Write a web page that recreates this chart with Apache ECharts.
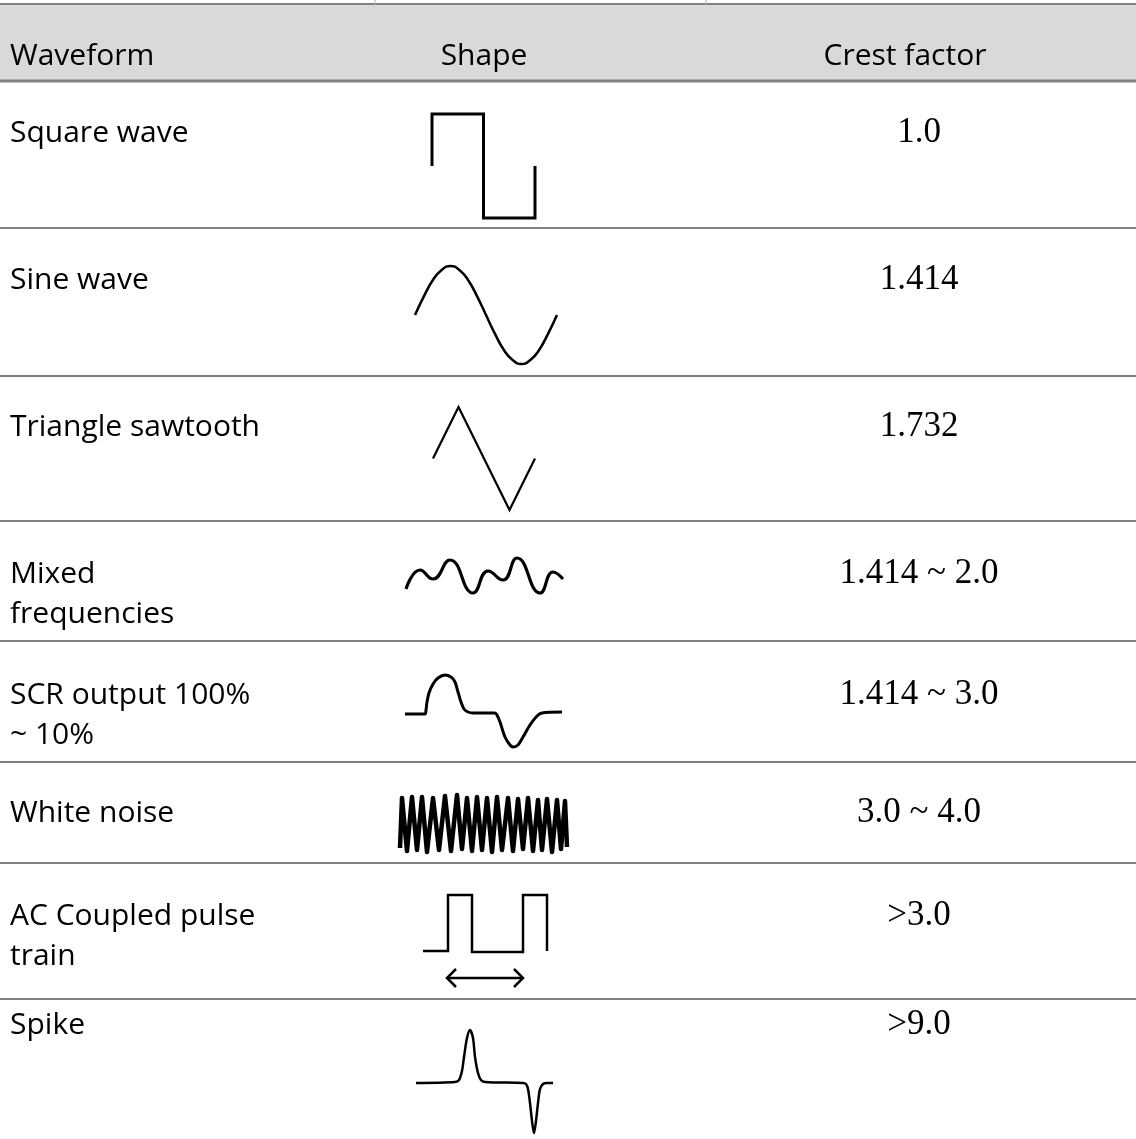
<!DOCTYPE html>
<html>
<head>
<meta charset="utf-8">
<title>Crest factor</title>
<script src="https://cdn.jsdelivr.net/npm/echarts@6/dist/echarts.min.js"></script>
<style>
  html, body { margin: 0; padding: 0; background: #fff; }
  #chart { width: 1136px; height: 1139px; }
</style>
</head>
<body>
<div id="chart"></div>
<script>
// table text
const headers = ['Waveform', 'Shape', 'Crest factor']
const waveforms = ['Square wave', 'Sine wave', 'Triangle sawtooth', 'Mixed\nfrequencies', 'SCR output 100%\n~ 10%', 'White noise', 'AC Coupled pulse\ntrain', 'Spike']
const crestFactors = ['1.0', '1.414', '1.732', '1.414 ~ 2.0', '1.414 ~ 3.0', '3.0 ~ 4.0', '>3.0', '>9.0']

// waveform shapes (local units of each cell)
const squareX = [0, 0, 1, 1, 2, 2]
const squareY = [0, 1, 1, -1, -1, 0]
const sineX = [0, 1, 2, 3, 4, 5, 6, 7, 8, 9, 10, 11, 12, 13, 14, 15, 16]
const sineY = [0, 0.38, 0.71, 0.92, 1, 0.92, 0.71, 0.38, 0, -0.38, -0.71, -0.92, -1, -0.92, -0.71, -0.38, 0]
const triangleX = [0, 1, 3, 4]
const triangleY = [0, 1, -1, 0]
const mixedX = [0, 14, 27, 44, 67, 82, 97, 111, 134, 147, 157]
const mixedY = [4, 23, 14, 33, 0, 22, 13, 35, 0, 21, 14]
const scrX = [0, 20, 21, 22, 24, 28, 33, 40, 46, 50, 53, 56, 59, 63, 68, 90, 92, 95, 100, 105, 108, 113, 118, 125, 132, 137, 157]
const scrY = [33, 33, 37, 45, 54, 63, 69, 72, 70, 65, 55, 45, 38, 35, 34, 34, 32, 25, 10, 2, 0, 2, 10, 22, 31, 34, 35]
const noiseX = [0, 2, 7, 12, 17, 22, 27, 33, 39, 45, 51, 57, 62, 67, 72, 77, 82, 87, 92, 97, 102, 108, 113, 118, 123, 128, 133, 138, 142, 147, 152, 157, 161, 165, 167]
const noiseY = [4, 54, 1, 55, 2, 55, 0, 54, 2, 56, 1, 57, 3, 54, 1, 55, 2, 54, 0, 55, 2, 54, 1, 53, 3, 54, 1, 52, 2, 53, 0, 52, 3, 51, 5]
const pulseX = [0, 25, 25, 49, 49, 100, 100, 124, 124]
const pulseY = [1, 1, 57, 57, 0, 0, 57, 57, 1]
const arrowShaftX = [0, 76]
const arrowShaftY = [0, 0]
const arrowLeftX = [9, 0, 9]
const arrowLeftY = [9, 0, -9]
const arrowRightX = [67, 76, 67]
const arrowRightY = [9, 0, -9]
const spikeX = [0, 39, 43, 46, 48, 51, 54, 57, 59, 62, 65, 69, 107, 110, 112, 114, 116, 118, 120, 122, 124, 127, 131, 137]
const spikeY = [50, 51, 53, 62, 76, 95, 103, 95, 76, 60, 53, 51, 50, 49, 44, 30, 12, 0, 12, 30, 44, 49, 50, 50]

const pairs = (xs, ys) => xs.map((x, i) => [x, ys[i]])

// cells: grid box in px, axis ranges, and the lines drawn in them
const cells = [
  { box: [432, 114, 103, 104], x: [0, 2], y: [-1, 1], lines: [[squareX, squareY]], width: 3 },
  { box: [415, 266, 142, 98], x: [0, 16], y: [-1, 1], lines: [[sineX, sineY]], width: 2.5, smooth: 0.5 },
  { box: [433, 407, 102, 103], x: [0, 4], y: [-1, 1], lines: [[triangleX, triangleY]], width: 2.2 },
  { box: [406, 558, 157, 35], x: [0, 157], y: [0, 35], lines: [[mixedX, mixedY]], width: 3.2, smooth: 0.5 },
  { box: [405, 675, 157, 72], x: [0, 157], y: [0, 72], lines: [[scrX, scrY]], width: 3, smooth: 0.3 },
  { box: [400, 795, 167, 57], x: [0, 167], y: [0, 57], lines: [[noiseX, noiseY]], width: 4.5 },
  { box: [423, 895, 124, 57], x: [0, 124], y: [0, 57], lines: [[pulseX, pulseY]], width: 2.5 },
  { box: [447, 969, 76, 18], x: [0, 76], y: [-9, 9], lines: [[arrowShaftX, arrowShaftY], [arrowLeftX, arrowLeftY], [arrowRightX, arrowRightY]], width: 2.5 },
  { box: [416, 1030, 137, 103], x: [0, 137], y: [0, 103], lines: [[spikeX, spikeY]], width: 2.5, smooth: 0.3 }
]

const rowCenters = [133, 280, 427, 574, 695, 813, 916, 1025]
const rowLines = [228, 376, 521, 641, 762, 863, 999]
const sans = '"Segoe UI", "Open Sans", "Noto Sans", sans-serif'
const serif = '"Liberation Serif", "DejaVu Serif", serif'

const chart = echarts.init(document.getElementById('chart'))

const grid = []
const xAxis = []
const yAxis = []
const series = []
cells.forEach((c, i) => {
  grid.push({ left: c.box[0], top: c.box[1], width: c.box[2], height: c.box[3] })
  xAxis.push({ type: 'value', gridIndex: i, min: c.x[0], max: c.x[1], show: false })
  yAxis.push({ type: 'value', gridIndex: i, min: c.y[0], max: c.y[1], show: false })
  c.lines.forEach(l => {
    series.push({
      type: 'line',
      xAxisIndex: i,
      yAxisIndex: i,
      data: pairs(l[0], l[1]),
      showSymbol: false,
      clip: false,
      smooth: c.smooth || false,
      lineStyle: { color: '#000', width: c.width, join: c.smooth || i === 5 ? 'round' : 'miter', cap: 'butt' },
      silent: true
    })
  })
})

const graphic = [
  // header band
  { type: 'rect', shape: { x: 0, y: 5, width: 1136, height: 76 }, style: { fill: '#d9d9d9' } },
  { type: 'line', shape: { x1: 0, y1: 4, x2: 1136, y2: 4 }, style: { stroke: '#808080', lineWidth: 2 } },
  { type: 'line', shape: { x1: 375, y1: 0, x2: 375, y2: 5 }, style: { stroke: '#b0b0b0', lineWidth: 1 } },
  { type: 'line', shape: { x1: 706, y1: 0, x2: 706, y2: 5 }, style: { stroke: '#b0b0b0', lineWidth: 1 } },
  { type: 'line', shape: { x1: 0, y1: 81, x2: 1136, y2: 81 }, style: { stroke: '#808080', lineWidth: 3 } },
  { type: 'text', x: 10, y: 56, style: { text: headers[0], font: '30px ' + sans, fill: '#000', align: 'left', verticalAlign: 'middle' } },
  { type: 'text', x: 484, y: 56, style: { text: headers[1], font: '30px ' + sans, fill: '#000', align: 'center', verticalAlign: 'middle' } },
  { type: 'text', x: 905, y: 56, style: { text: headers[2], font: '30px ' + sans, fill: '#000', align: 'center', verticalAlign: 'middle' } }
]
rowLines.forEach(y => {
  graphic.push({ type: 'line', shape: { x1: 0, y1: y, x2: 1136, y2: y }, style: { stroke: '#808080', lineWidth: 2 } })
})
waveforms.forEach((name, i) => {
  graphic.push({
    type: 'text', x: 10, y: rowCenters[i] - 20,
    style: { text: name, font: '30px ' + sans, lineHeight: 40, fill: '#000', align: 'left', verticalAlign: 'top' }
  })
  graphic.push({
    type: 'text', x: 919, y: rowCenters[i],
    style: { text: crestFactors[i], font: '35px ' + serif, fill: '#000', align: 'center', verticalAlign: 'middle' }
  })
})

chart.setOption({
  animation: false,
  backgroundColor: '#fff',
  grid: grid,
  xAxis: xAxis,
  yAxis: yAxis,
  series: series,
  graphic: graphic
})
</script>
</body>
</html>
